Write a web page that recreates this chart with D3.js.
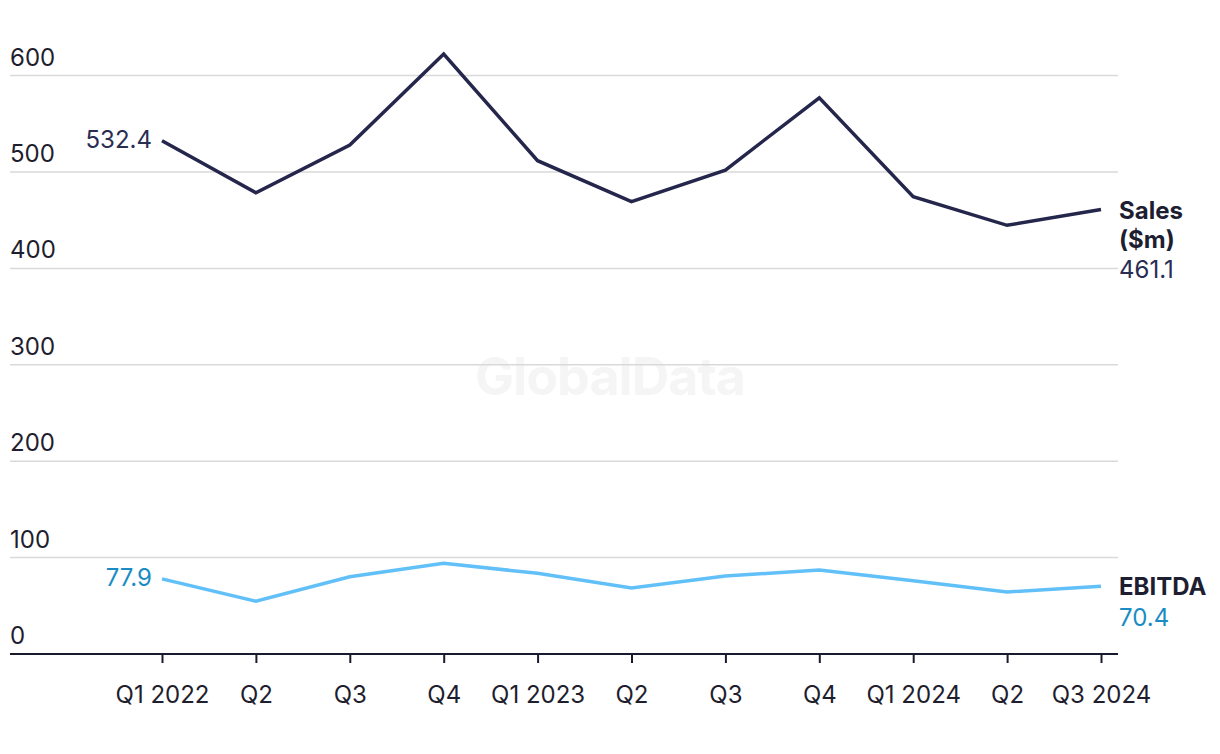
<!DOCTYPE html>
<html><head><meta charset="utf-8">
<script src="https://cdn.jsdelivr.net/npm/d3@7"></script>
<style>
html,body{margin:0;padding:0;background:#fff;}
svg{display:block;font-family:Inter, "Noto Sans", sans-serif;}
</style></head>
<body><svg id="chart" width="1220" height="754"></svg>
<script>
const categories = ["Q1 2022","Q2","Q3","Q4","Q1 2023","Q2 ","Q3 ","Q4 ","Q1 2024","Q2  ","Q3 2024"];
const salesValues = [532.4,478.5,528.0,622.4,511.7,469.2,502.0,577.0,474.4,444.7,461.1];
const ebitdaValues = [77.9,54.7,80.2,94.1,83.7,68.5,80.9,87.1,76.0,64.3,70.4];
const yTicks = [0,100,200,300,400,500,600];

const svg = d3.select("#chart");
const x = d3.scalePoint().domain(categories).range([162,1101]);
const y = d3.scaleLinear().domain([0,600]).range([654,75.6]);
const left = 10, right = 1118;
const FS = 24;

// watermark
svg.append("text").attr("x",610).attr("y",395).attr("text-anchor","middle")
  .attr("font-size",52).attr("font-weight",700).attr("fill","#f5f5f5")
  .attr("letter-spacing","-1").text("GlobalData");

// gridlines
svg.append("g").selectAll("line").data(yTicks.filter(d=>d>0)).join("line")
  .attr("x1",left).attr("x2",right).attr("y1",d=>y(d)).attr("y2",d=>y(d))
  .attr("stroke","#d9d9d9").attr("stroke-width",1.5);

// y tick labels
svg.append("g").selectAll("text").data(yTicks).join("text")
  .attr("x",left).attr("y",d=>y(d)-10).attr("font-size",FS).attr("fill","#1e1e2e")
  .text(d=>d);

// x axis
const xAxis = d3.axisBottom(x).tickSize(9).tickPadding(23).tickFormat(d=>d.trim());
const gx = svg.append("g").attr("transform","translate(0,654)").call(xAxis);
gx.select(".domain").remove();
gx.selectAll(".tick line").attr("stroke","#1a1a2e").attr("stroke-width",2);
gx.selectAll(".tick text").attr("font-size",FS).attr("fill","#1e1e2e").attr("font-family","Inter, 'Noto Sans', sans-serif");
svg.append("line").attr("x1",left).attr("x2",right).attr("y1",654).attr("y2",654)
  .attr("stroke","#1a1a2e").attr("stroke-width",2);

// lines
const line = d3.line().x((d,i)=>x(categories[i])).y(d=>y(d));
svg.append("path").datum(ebitdaValues).attr("d",line).attr("fill","none")
  .attr("stroke","#62c0f8").attr("stroke-width",3.5).attr("stroke-linejoin","miter");
svg.append("path").datum(salesValues).attr("d",line).attr("fill","none")
  .attr("stroke","#25264b").attr("stroke-width",3.5).attr("stroke-linejoin","miter");

// start labels
const first = categories[0];
svg.append("text").attr("x",x(first)-10).attr("y",y(salesValues[0])).attr("dy","0.3em")
  .attr("text-anchor","end").attr("font-size",FS).attr("fill","#2a2d52").text(salesValues[0]);
svg.append("text").attr("x",x(first)-10).attr("y",y(ebitdaValues[0])).attr("dy","0.3em")
  .attr("text-anchor","end").attr("font-size",FS).attr("fill","#1a8cc4").text(ebitdaValues[0]);

// end labels
const sY = y(salesValues[salesValues.length-1]);
const sl = svg.append("text").attr("x",1119).attr("y",sY+10).attr("font-size",FS);
sl.append("tspan").attr("x",1119).attr("font-weight",700).attr("fill","#1e1e32").text("Sales");
sl.append("tspan").attr("x",1119).attr("dy",29).attr("font-weight",700).attr("fill","#1e1e32").text("($m)");
sl.append("tspan").attr("x",1119).attr("dy",30).attr("fill","#2a2d52").text(salesValues[salesValues.length-1]);

const eY = y(ebitdaValues[ebitdaValues.length-1]);
const el = svg.append("text").attr("x",1119).attr("y",eY+9).attr("font-size",FS);
el.append("tspan").attr("x",1119).attr("font-weight",700).attr("fill","#1e1e32").text("EBITDA");
el.append("tspan").attr("x",1119).attr("dy",31).attr("fill","#1a8cc4").text(ebitdaValues[ebitdaValues.length-1]);
</script></body></html>
